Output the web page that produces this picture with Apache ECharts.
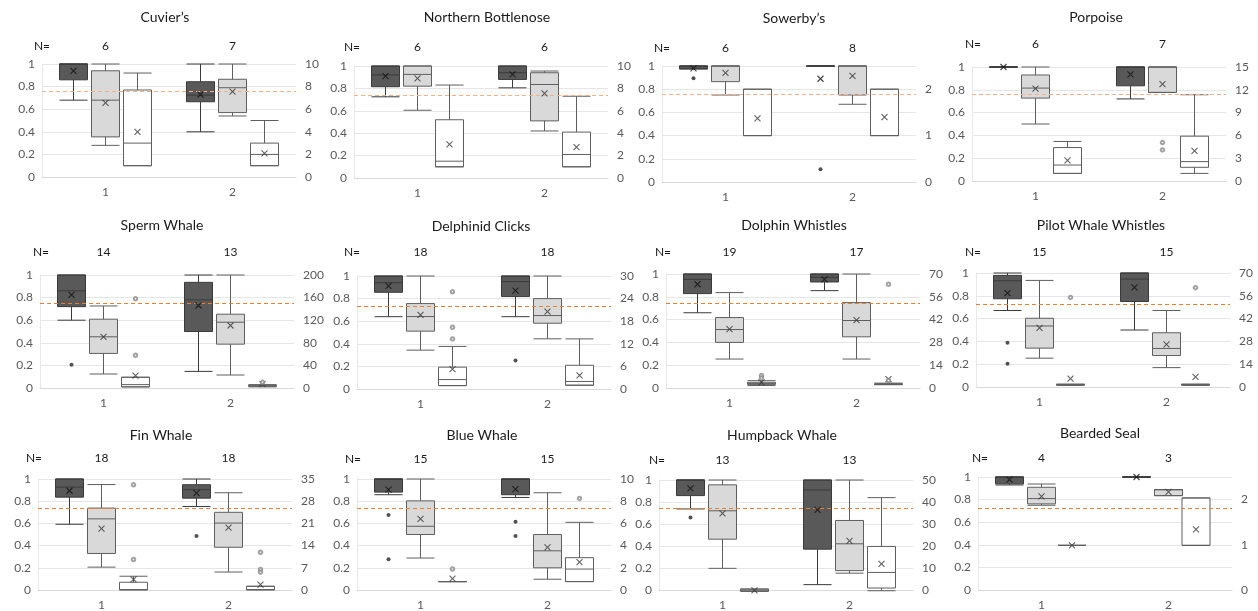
<!DOCTYPE html>
<html><head><meta charset="utf-8">
<script src="https://cdn.jsdelivr.net/npm/echarts@6/dist/echarts.min.js"></script>
<style>html,body{margin:0;padding:0;background:#fff}#c{width:1258px;height:611px}</style>
</head><body><div id="c"></div>
<script>
// ---------- DATA ----------
const categories = ['1', '2'];
const panelTitles = ['Cuvier\u2019s', 'Northern Bottlenose', 'Sowerby\u2019s', 'Porpoise',
  'Sperm Whale', 'Delphinid Clicks', 'Dolphin Whistles', 'Pilot Whale Whistles',
  'Fin Whale', 'Blue Whale', 'Humpback Whale', 'Bearded Seal'];
const nCounts = [[6,7],[6,6],[6,8],[6,7],[14,13],[18,18],[19,17],[15,15],[18,18],[15,15],[13,13],[4,3]];
const thresholds = [0.76,0.745,0.758,0.76,0.75,0.735,0.745,0.735,0.738,0.738,0.745,0.72];
const rightAxisMax = [10,10,2.5,15,200,30,70,70,35,10,50,2.5];
const rightAxisStep = [2,2,1,3,40,6,14,14,7,2,10,1];

// boxes: [min, Q1, median, Q3, max] per category
const darkBoxes = [
  [[0.68,0.86,1,1,1],[0.40,0.666,0.725,0.843,1]],
  [[0.725,0.815,0.92,1,1],[0.805,0.88,0.94,1,1]],
  [[0.975,0.975,1,1,1],[1,1,1,1,1]],
  [[1,1,1,1,1],[0.72,0.835,1,1,1]],
  [[0.6,0.72,0.86,1,1],[0.147,0.5,0.78,0.935,1]],
  [[0.64,0.856,0.94,1,1],[0.64,0.818,0.95,1,1]],
  [[0.66,0.828,0.953,1,1],[0.854,0.93,0.971,1,1]],
  [[0.671,0.774,0.932,0.979,1],[0.5,0.75,0.947,1,1]],
  [[0.603,0.841,0.929,1,1],[0.759,0.832,0.906,0.95,1]],
  [[0.862,0.885,1,1,1],[0.838,0.862,1,1,1]],
  [[0.744,0.862,1,1,1],[0.074,0.388,0.912,1,1]],
  [[0.93,0.94,1,1,1],[1,1,1,1,1]]
];
const darkMeans = [[0.94,0.73],[0.91,0.925],[0.98,0.89],[1,0.935],[0.825,0.73],[0.912,0.87],
  [0.91,0.953],[0.824,0.874],[0.897,0.876],[0.906,0.912],[0.926,0.735],[0.976,1]];
const darkOutliers = [[],[],[[0,0.895],[1,0.11]],[],[[0,0.205]],[[1,0.253]],[],
  [[0,0.388],[0,0.203]],[[1,0.5]],[[0,0.685],[0,0.297],[1,0.626],[1,0.5]],[[0,0.668]],[]];

const lightBoxes = [
  [[0.28,0.355,0.68,0.94,1],[0.54,0.57,0.79,0.865,1]],
  [[0.605,0.82,0.925,1,1],[0.42,0.51,0.835,0.94,0.955]],
  [[0.75,0.865,1,1,1],[0.67,0.75,1,1,1]],
  [[0.5,0.727,0.815,0.93,1],[0.777,0.777,1,1,1]],
  [[0.124,0.306,0.453,0.609,0.726],[0.115,0.388,0.582,0.653,1]],
  [[0.344,0.512,0.641,0.756,1],[0.444,0.582,0.65,0.8,1]],
  [[0.254,0.4,0.513,0.618,0.837],[0.254,0.449,0.592,0.749,1]],
  [[0.253,0.341,0.535,0.603,0.935],[0.17,0.276,0.338,0.476,0.671]],
  [[0.206,0.329,0.641,0.738,0.95],[0.162,0.385,0.603,0.7,0.876]],
  [[0.288,0.5,0.574,0.803,1],[0.097,0.2,0.353,0.5,0.876]],
  [[0.197,0.462,0.72,0.956,1],[0.153,0.176,0.42,0.632,1]],
  [[0.75,0.762,0.809,0.909,0.938],[0.835,0.835,0.888,0.888,0.888]]
];
const lightMeans = [[0.655,0.755],[0.89,0.755],[0.94,0.915],[0.81,0.85],[0.453,0.553],[0.656,0.685],
  [0.516,0.595],[0.518,0.374],[0.553,0.562],[0.641,0.385],[0.697,0.447],[0.829,0.868]];
const lightOutliers = [[],[],[],[[1,0.337],[1,0.273]],[],[],[],[],[],[],[],[]];

// white boxes are read on the right-hand axis
const whiteBoxes = [
  [[1,1,3,7.7,9.2],[1,1,2,3,5]],
  [[1,1,1.5,5.2,8.3],[1,1,2.1,4.1,7.3]],
  [[1,1,1,2,2],[1,1,1,2,2]],
  [[1,1,2.1,4.4,5.2],[1,1.8,2.55,5.9,11.35]],
  [[2,2,6,19,19],[2,3,4,5,6]],
  [[0.9,0.9,2.5,5.8,11.3],[1,1,2,6.3,13.3]],
  [[1.5,2.2,2.8,3.5,4.5],[2,2.2,2.4,2.6,3]],
  [[1,1.2,1.4,1.6,1.8],[1,1.2,1.4,1.6,1.8]],
  [[1,1,1,3.3,5.15],[1,1,1,2.06,2.06]],
  [[1,1,1,1,1],[1,1,2.1,3.1,6.2]],
  [[0.75,0.75,1.2,1.75,1.75],[1,2.2,9.1,20.6,42.2]],
  [[1,1,1,1,1],[1,1,1,2.04,2.04]]
];
const whiteMeans = [[4,2.1],[3,2.75],[1.37,1.4],[2.7,3.95],[22,7],[5.3,3.6],[3.4,5.5],[5.1,6.2],
  [4.2,2.6],[1.26,2.7],[1.2,12.9],[1,1.35]];
const whiteOutliers = [[],[],[],[],[[0,158],[0,58],[1,10]],[[0,25.8],[0,16.4],[0,13.3]],
  [[0,7.7],[0,6.2],[1,63.7],[1,4.6]],[[0,55],[1,61]],[[0,33.2],[0,10.3],[1,12.5],[1,7.2],[1,6.4]],
  [[0,2.1],[1,8.3]],[],[]];

// ---------- LAYOUT ----------
const panelLeft = [42,354,662,972,40,357,666,976,38,357,659,978];
const panelTop = [64,66,66,67,275,276,274,273,479,479,480,477];
const panelHeight = [113,112,116,114,113,113,114,114,114,114,113,114];
const titlePos = [[165,17],[487,17],[794,18],[1096,17],[162,225],[481,226],[794,225],[1101,225],
  [161,435],[482,435],[782,435],[1100,433]];
const nEqPos = [[42,46],[352,47],[662,48],[973,44],[41,252],[352,252],[663,252],[973,252],
  [34,458],[353,459],[657,460],[980,458]];
const nMargin = [12,13,12,17,17,18,16,15,15,14,14,13];
const lineColors = ['#f4b183','#f4b183','#f4b183','#f4b183','#ed7d31','#ed7d31','#ed7d31','#ed7d31',
  '#ed7d31','#ed7d31','#ed7d31','#ed7d31'];

const FONT = 'Lato, "Open Sans", "DejaVu Sans", sans-serif';
const GREY = '#595959';
const BOX_STEP = 32, BOX_W = 28, GRID_W = 254;
const boxStyles = [
  {color:'#595959', borderColor:'#3a3a3a', borderWidth:1},
  {color:'#d9d9d9', borderColor:'#5f5f5f', borderWidth:1},
  {color:'#ffffff', borderColor:'#5f5f5f', borderWidth:1}
];
const meanColors = ['#111111','#3a3a3a','#3a3a3a'];
const X_PATH = 'path://M0,0L10,10M0,10L10,0';

const grid = [], xAxis = [], yAxis = [], series = [], graphic = [];

for (let p = 0; p < panelTitles.length; p++) {
  const g0 = grid.length;
  [-BOX_STEP, 0, BOX_STEP].forEach(dx => grid.push({
    left: panelLeft[p] + dx, top: panelTop[p], width: GRID_W, height: panelHeight[p]
  }));
  const xDark = xAxis.length;
  xAxis.push({gridIndex: g0, type: 'category', data: categories, show: false});
  const xMain = xAxis.length;
  xAxis.push({gridIndex: g0 + 1, type: 'category', data: categories, position: 'bottom',
    axisLine: {show: true, lineStyle: {color: '#d9d9d9'}}, axisTick: {show: false},
    axisLabel: {color: GREY, fontSize: 12, fontFamily: FONT, margin: 9}});
  xAxis.push({gridIndex: g0 + 1, type: 'category', data: nCounts[p].map(String), position: 'top',
    axisLine: {show: false}, axisTick: {show: false}, splitLine: {show: false},
    axisLabel: {color: '#1a1a1a', fontSize: 12, fontFamily: FONT, margin: nMargin[p]}});
  const xWhite = xAxis.length;
  xAxis.push({gridIndex: g0 + 2, type: 'category', data: categories, show: false});

  const yDark = yAxis.length;
  yAxis.push({gridIndex: g0, type: 'value', min: 0, max: 1, show: false});
  const yLeft = yAxis.length;
  yAxis.push({gridIndex: g0 + 1, type: 'value', min: 0, max: 1, interval: 0.2, position: 'left',
    axisLine: {show: true, lineStyle: {color: '#e8e8e8'}}, axisTick: {show: false},
    splitLine: {show: true, lineStyle: {color: '#e6e6e6'}},
    axisLabel: {color: GREY, fontSize: 12, fontFamily: FONT, margin: 7}});
  yAxis.push({gridIndex: g0 + 1, type: 'value', min: 0, max: rightAxisMax[p], interval: rightAxisStep[p],
    position: 'right', axisLine: {show: false}, axisTick: {show: false}, splitLine: {show: false},
    axisLabel: {color: GREY, fontSize: 12, fontFamily: FONT, margin: 9,
      showMaxLabel: (rightAxisMax[p] % rightAxisStep[p]) === 0}});
  const yWhite = yAxis.length;
  yAxis.push({gridIndex: g0 + 2, type: 'value', min: 0, max: rightAxisMax[p], show: false});

  const groups = [
    {boxes: darkBoxes[p], means: darkMeans[p], outl: darkOutliers[p], x: xDark, y: yDark, filled: true},
    {boxes: lightBoxes[p], means: lightMeans[p], outl: lightOutliers[p], x: xMain, y: yLeft, filled: false},
    {boxes: whiteBoxes[p], means: whiteMeans[p], outl: whiteOutliers[p], x: xWhite, y: yWhite, filled: false}
  ];
  groups.forEach((g, k) => {
    const box = {
      type: 'boxplot', xAxisIndex: g.x, yAxisIndex: g.y, data: g.boxes,
      boxWidth: [BOX_W, BOX_W], itemStyle: boxStyles[k], emphasis: {disabled: true}, silent: true
    };
    if (k === 1) {
      box.markLine = {silent: true, symbol: 'none', label: {show: false},
        lineStyle: {type: [4, 3], color: lineColors[p], width: 1.2},
        data: [{yAxis: thresholds[p]}]};
    }
    series.push(box);
    series.push({type: 'scatter', xAxisIndex: g.x, yAxisIndex: g.y, z: 5, silent: true,
      data: g.means.map((v, i) => [i, v]), symbol: X_PATH, symbolSize: 6,
      itemStyle: {color: 'none', borderColor: meanColors[k], borderWidth: 1.1}});
    if (g.outl.length) {
      series.push({type: 'scatter', xAxisIndex: g.x, yAxisIndex: g.y, z: 5, silent: true,
        data: g.outl, symbol: g.filled ? 'circle' : 'emptyCircle', symbolSize: g.filled ? 4 : 3.5,
        itemStyle: g.filled ? {color: '#262626'} : {color: '#8a8a8a', borderWidth: 0.9}});
    }
  });

  graphic.push({type: 'text', x: titlePos[p][0], y: titlePos[p][1], silent: true,
    style: {text: panelTitles[p], align: 'center', verticalAlign: 'middle',
      fontSize: 14, fontFamily: FONT, fill: '#1a1a1a'}});
  graphic.push({type: 'text', x: nEqPos[p][0], y: nEqPos[p][1], silent: true,
    style: {text: 'N=', align: 'center', verticalAlign: 'middle',
      fontSize: 12, fontFamily: FONT, fill: '#1a1a1a'}});
}

const chart = echarts.init(document.getElementById('c'));
chart.setOption({
  animation: false,
  backgroundColor: '#ffffff',
  grid, xAxis, yAxis, series, graphic
});
</script>
</body></html>
